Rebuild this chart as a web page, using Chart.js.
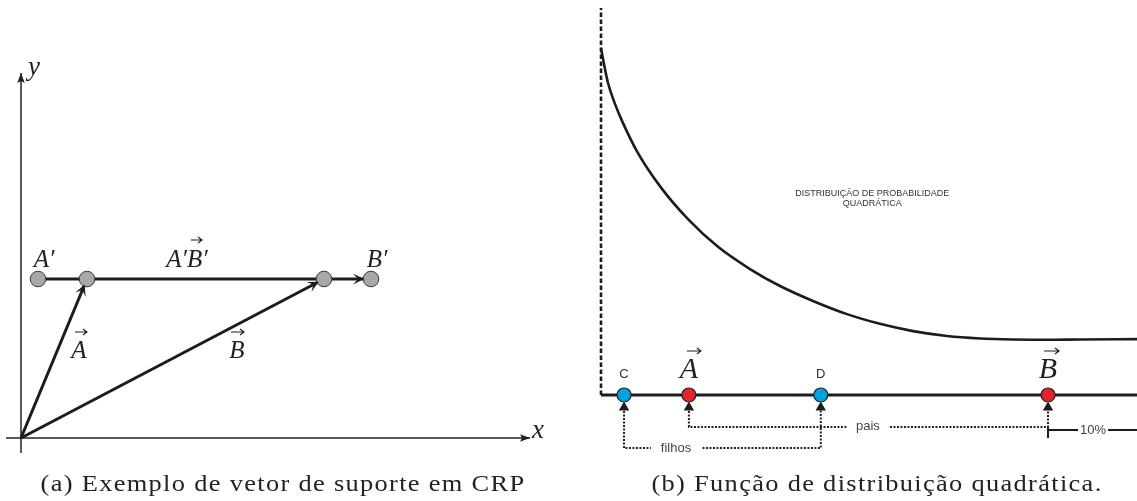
<!DOCTYPE html>
<html>
<head>
<meta charset="utf-8">
<script src="https://cdn.jsdelivr.net/npm/chart.js@4.4.1/dist/chart.umd.min.js"></script>
<style>
  body { margin: 0; background: #fff; width: 1137px; height: 501px; position: relative; overflow: hidden; }
  canvas { position: absolute; top: 0; }
  #vecChart { left: 0; }
  #distChart { left: 580px; }
  .caption {
    position: absolute; top: 471px; line-height: 24px;
    font-family: "Liberation Serif", serif; font-size: 24px; letter-spacing: 1.2px;
    color: #222; white-space: nowrap; transform: translateX(-50%) scaleX(1.1);
  }
</style>
</head>
<body>
<canvas id="vecChart" width="560" height="501"></canvas>
<canvas id="distChart" width="557" height="501"></canvas>
<div class="caption" style="left:283px">(a) Exemplo de vetor de suporte em CRP</div>
<div class="caption" style="left:877px">(b) Função de distribuição quadrática.</div>
<script>
// (a) support vector: A and B from the origin, shifted copy A'B' on the same level
const supportLevel = 3.18;
const shiftedX = [0.34, 7.0];   // A', B'
const vectorX = [1.32, 6.06];   // A, B
const axisXRange = [-0.3, 10.18];
const axisYRange = [-0.3, 7.3];

// (b) quadratic distribution curve and the points on its base line
const curveX = [0, 0.56, 1.31, 2.61, 3.92, 6.9, 11.38, 16.23, 21.83, 27.8, 33.4, 39.55, 45.9, 52.05, 58.21, 64.55, 70.71, 76.87, 83.21, 89.37, 100];
const curveY = [1.0, 0.954, 0.899, 0.839, 0.79, 0.697, 0.594, 0.507, 0.427, 0.363, 0.314, 0.271, 0.233, 0.205, 0.184, 0.170, 0.163, 0.160, 0.159, 0.160, 0.161];
const childX = [4.3, 41.0];    // C, D
const parentX = [16.4, 83.4];  // A, B
const wallTop = 1.115;
const arrowY = -0.036;
const parentLinkY = -0.092;
const childLinkY = -0.153;
const marginY = -0.101;
const marginBottom = -0.124;

const ink = '#1c1c1c';

const pt = (x, y) => ({ x: x, y: y });

function drawVecArrow(ctx, x0, y0, len) {
    ctx.strokeStyle = ink;
    ctx.lineWidth = 1.1;
    ctx.beginPath();
    ctx.moveTo(x0, y0);
    ctx.lineTo(x0 + len, y0);
    ctx.moveTo(x0 + len - 4, y0 - 3);
    ctx.lineTo(x0 + len, y0);
    ctx.lineTo(x0 + len - 4, y0 + 3);
    ctx.stroke();
}

// text drawn at data positions, optionally over a white box or with a vector arrow on top
function makeTextPlugin(items) {
    return {
        id: 'textMarks',
        afterDatasetsDraw(chart) {
            const ctx = chart.ctx;
            const sx = chart.scales.x, sy = chart.scales.y;
            items.forEach(it => {
                const px = sx.getPixelForValue(it.x);
                const py = sy.getPixelForValue(it.y);
                ctx.save();
                ctx.font = it.font;
                ctx.textAlign = 'center';
                ctx.textBaseline = it.baseline || 'alphabetic';
                const w = ctx.measureText(it.text).width;
                if (it.pad !== undefined) {
                    ctx.fillStyle = '#fff';
                    ctx.fillRect(px - w / 2 - it.pad, py - 8, w + it.pad * 2, 16);
                }
                ctx.fillStyle = it.color || '#222';
                ctx.fillText(it.text, px, py);
                if (it.vec) drawVecArrow(ctx, px + it.vec[0], py - it.vec[1], it.vec[2]);
                ctx.restore();
            });
        }
    };
}

// arrow heads at the last point of any dataset that has an `arrow` setting
const arrowHeads = {
    id: 'arrowHeads',
    afterDatasetsDraw(chart) {
        const ctx = chart.ctx;
        chart.data.datasets.forEach((ds, i) => {
            if (!ds.arrow) return;
            const pts = chart.getDatasetMeta(i).data;
            const a = pts[pts.length - 2], b = pts[pts.length - 1];
            const ang = Math.atan2(b.y - a.y, b.x - a.x);
            const h = ds.arrow;
            ctx.save();
            ctx.translate(b.x - Math.cos(ang) * h.gap, b.y - Math.sin(ang) * h.gap);
            ctx.rotate(ang);
            ctx.beginPath();
            ctx.moveTo(0, 0);
            ctx.lineTo(-h.len, -h.half);
            ctx.lineTo(-h.len + h.notch, 0);
            ctx.lineTo(-h.len, h.half);
            ctx.closePath();
            ctx.fillStyle = ds.borderColor;
            ctx.fill();
            ctx.restore();
        });
    }
};

function lineSet(data, width, extra) {
    return Object.assign({
        data: data, showLine: true, pointRadius: 0, borderColor: ink,
        borderWidth: width, fill: false
    }, extra || {});
}

function baseOptions(xMin, xMax, yMin, yMax) {
    return {
        responsive: false,
        animation: false,
        events: [],
        layout: { padding: 0, autoPadding: false },
        plugins: { legend: { display: false }, tooltip: { enabled: false } },
        scales: {
            x: { type: 'linear', min: xMin, max: xMax, display: false },
            y: { type: 'linear', min: yMin, max: yMax, display: false }
        }
    };
}

// ---------- (a) ----------
const mathFont = 'italic 25px "Liberation Serif", serif';
const vecLabels = [
    { text: 'A\u2032', x: 0.46, y: 3.42, font: mathFont },
    { text: 'A\u2032B\u2032', x: 3.32, y: 3.42, font: mathFont, vec: [4, 27, 11] },
    { text: 'B\u2032', x: 7.12, y: 3.42, font: mathFont },
    { text: 'A', x: 1.16, y: 1.6, font: mathFont, vec: [-4, 26, 12] },
    { text: 'B', x: 4.32, y: 1.6, font: mathFont, vec: [-6, 26, 13] },
    { text: 'x', x: 10.34, y: 0.0, font: 'italic 27px "Liberation Serif", serif' },
    { text: 'y', x: 0.26, y: 7.26, font: 'italic 27px "Liberation Serif", serif' }
];

new Chart(document.getElementById('vecChart'), {
    type: 'scatter',
    data: {
        datasets: [
            {
                data: [pt(shiftedX[0], supportLevel), pt(vectorX[0], supportLevel), pt(vectorX[1], supportLevel), pt(shiftedX[1], supportLevel)],
                pointRadius: 7.8, backgroundColor: '#a8a8a8', borderColor: '#3c3c3c', borderWidth: 1, order: 0
            },
            lineSet([pt(shiftedX[0], supportLevel), pt(shiftedX[1], supportLevel)], 3,
                { order: 1, arrow: { len: 11, half: 5.5, notch: 5, gap: 7 } }),
            lineSet([pt(0, 0), pt(vectorX[0], supportLevel)], 3,
                { order: 1, arrow: { len: 11, half: 5.5, notch: 5, gap: 6 } }),
            lineSet([pt(0, 0), pt(vectorX[1], supportLevel)], 3,
                { order: 1, arrow: { len: 11, half: 5.5, notch: 5, gap: 6 } }),
            lineSet([pt(axisXRange[0], 0), pt(axisXRange[1], 0)], 1.5,
                { order: 2, borderColor: '#222', arrow: { len: 10, half: 3.8, notch: 2, gap: 0 } }),
            lineSet([pt(0, axisYRange[0]), pt(0, axisYRange[1])], 1.5,
                { order: 2, borderColor: '#222', arrow: { len: 10, half: 3.8, notch: 2, gap: 0 } })
        ]
    },
    options: baseOptions(-0.42, 10.78, -1.26, 8.76),
    plugins: [arrowHeads, makeTextPlugin(vecLabels)]
});

// ---------- (b) ----------
const sansSmall = '13px "Liberation Sans", Arial, sans-serif';
const bigMath = 'italic 30px "Liberation Serif", serif';
const distLabels = [
    { text: 'DISTRIBUIÇÃO DE PROBABILIDADE', x: 50.6, y: 0.582, font: '9px "Liberation Sans", Arial, sans-serif', baseline: 'middle', color: '#333' },
    { text: 'QUADRÁTICA', x: 50.6, y: 0.553, font: '9px "Liberation Sans", Arial, sans-serif', baseline: 'middle', color: '#333' },
    { text: 'C', x: childX[0], y: 0.0605, font: sansSmall, baseline: 'middle', color: '#333' },
    { text: 'D', x: childX[1], y: 0.0605, font: sansSmall, baseline: 'middle', color: '#333' },
    { text: 'A', x: parentX[0], y: 0.049, font: bigMath, vec: [-2, 27, 14] },
    { text: 'B', x: parentX[1], y: 0.049, font: bigMath, vec: [-4, 27, 15] },
    { text: 'pais', x: 49.8, y: parentLinkY, font: sansSmall, baseline: 'middle', color: '#444', pad: 9 },
    { text: 'filhos', x: 14.0, y: childLinkY, font: sansSmall, baseline: 'middle', color: '#444', pad: 10 },
    { text: '10%', x: 91.8, y: marginY, font: sansSmall, baseline: 'middle', color: '#444', pad: 2 }
];

const dotted = { borderDash: [2, 1.5], borderColor: '#222', order: 3 };

new Chart(document.getElementById('distChart'), {
    type: 'scatter',
    data: {
        datasets: [
            {
                data: parentX.map(v => pt(v, 0)),
                pointRadius: 7, backgroundColor: '#e3242b', borderColor: '#222', borderWidth: 1.2, order: 0
            },
            {
                data: childX.map(v => pt(v, 0)),
                pointRadius: 7, backgroundColor: '#00a3e0', borderColor: '#222', borderWidth: 1.2, order: 0
            },
            {
                data: childX.concat(parentX).map(v => pt(v, arrowY)),
                pointStyle: 'triangle', pointRadius: 6, backgroundColor: ink, borderColor: ink, borderWidth: 0, order: 1
            },
            lineSet([pt(0, 0), pt(100, 0)], 3, { order: 2 }),
            lineSet(curveX.map((v, i) => pt(v, curveY[i])), 2.6, { order: 2, cubicInterpolationMode: 'monotone' }),
            lineSet([pt(0, 0), pt(0, wallTop)], 2.6, { order: 2, borderDash: [4.5, 2.5] }),
            lineSet([pt(parentX[0], arrowY), pt(parentX[0], parentLinkY), pt(parentX[1], parentLinkY), pt(parentX[1], arrowY)], 2, dotted),
            lineSet([pt(childX[0], arrowY), pt(childX[0], childLinkY), pt(childX[1], childLinkY), pt(childX[1], arrowY)], 2, dotted),
            lineSet([pt(parentX[1], parentLinkY), pt(parentX[1], marginBottom)], 2, { order: 3 }),
            lineSet([pt(parentX[1], marginY), pt(100, marginY)], 2, { order: 3 })
        ]
    },
    options: baseOptions(-3.918, 100, -0.3055, 1.1383),
    plugins: [makeTextPlugin(distLabels)]
});
</script>
</body>
</html>
